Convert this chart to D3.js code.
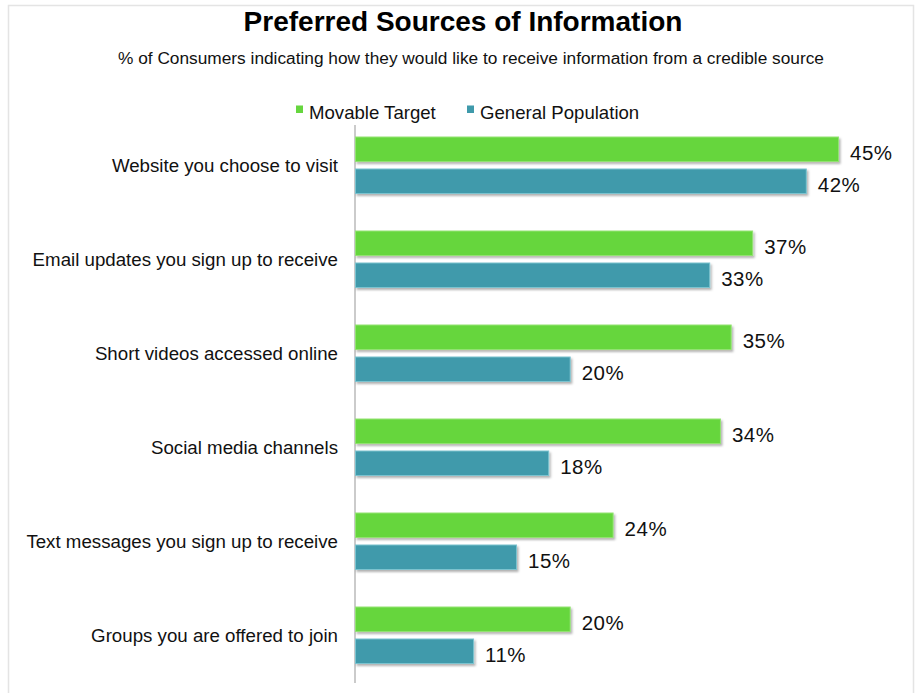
<!DOCTYPE html>
<html>
<head>
<meta charset="utf-8">
<script src="https://cdn.jsdelivr.net/npm/d3@7"></script>
<style>
  html, body { margin: 0; padding: 0; background: #fff; }
  svg { display: block; font-family: "Liberation Sans", Arial, Helvetica, sans-serif; }
</style>
</head>
<body>
<svg id="chart" width="915" height="693"></svg>
<script>
// Survey answers: share of respondents per information source
const categories = [
  "Website you choose to visit",
  "Email updates you sign up to receive",
  "Short videos accessed online",
  "Social media channels",
  "Text messages you sign up to receive",
  "Groups you are offered to join"
];
const seriesNames = ["Movable Target", "General Population"];
const movableTarget = [45, 37, 35, 34, 24, 20];
const generalPopulation = [42, 33, 20, 18, 15, 11];
const seriesColors = ["#66d63e", "#3f9aab"];
const seriesEdges = ["#93e373", "#7cc3cf"];

const titleText = "Preferred Sources of Information";
const subtitleText = "% of Consumers indicating how they would like to receive information from a credible source";

const svg = d3.select("#chart");

// light frame around the chart area
svg.append("path")
  .attr("d", "M8.5,700 V5.5 H913.5 V700")
  .attr("fill", "none")
  .attr("stroke", "#e4e4e4")
  .attr("stroke-width", 1.5);

// soft drop shadow under bars
const defs = svg.append("defs");
const f = defs.append("filter").attr("id", "shadow")
  .attr("x", "-5%").attr("y", "-20%").attr("width", "115%").attr("height", "160%");
f.append("feDropShadow")
  .attr("dx", 1.5).attr("dy", 2).attr("stdDeviation", 1.2)
  .attr("flood-color", "#000").attr("flood-opacity", 0.3);

// titles
svg.append("text")
  .attr("x", 463).attr("y", 31)
  .attr("text-anchor", "middle")
  .attr("font-size", 28).attr("font-weight", "bold").attr("fill", "#000")
  .text(titleText);
svg.append("text")
  .attr("x", 471).attr("y", 64)
  .attr("text-anchor", "middle")
  .attr("font-size", 17.3).attr("fill", "#111")
  .text(subtitleText);

// scales
const x0 = 355;
const x = d3.scaleLinear().domain([0, 45]).range([x0, x0 + 483]);
const y = d3.scaleBand().domain(categories).range([118, 682]).paddingInner(0).paddingOuter(0);
const ySeries = d3.scaleBand().domain(seriesNames).range([19, 75.5]).paddingInner(0.234).paddingOuter(0);

const rows = categories.map((c, i) => ({
  category: c,
  values: [movableTarget[i], generalPopulation[i]]
}));

// category axis (labels on the left, vertical line)
const yAxis = d3.axisLeft(y).tickSize(0).tickPadding(17);
const gAxis = svg.append("g")
  .attr("transform", `translate(${x0},0)`)
  .call(yAxis);
gAxis.select(".domain").remove();
gAxis.selectAll("text")
  .attr("font-size", 18.7)
  .attr("fill", "#111")
  .attr("font-family", "'Liberation Sans', Arial, sans-serif")
  .attr("dy", "0.32em")
  .attr("transform", "translate(0,1)");

svg.append("line")
  .attr("x1", x0).attr("x2", x0)
  .attr("y1", 125).attr("y2", 683)
  .attr("stroke", "#a8a8a8").attr("stroke-width", 1.2);

// bars
const groups = svg.append("g").selectAll("g")
  .data(rows).join("g")
  .attr("transform", d => `translate(0,${y(d.category)})`);

groups.selectAll("rect")
  .data(d => d.values.map((v, k) => ({ series: seriesNames[k], k, v })))
  .join("rect")
  .attr("x", x(0) + 0.5)
  .attr("y", d => ySeries(d.series))
  .attr("width", d => x(d.v) - x(0))
  .attr("height", ySeries.bandwidth())
  .attr("fill", d => seriesColors[d.k])
  .attr("stroke", d => seriesEdges[d.k])
  .attr("stroke-width", 1)
  .attr("filter", "url(#shadow)");

groups.selectAll("text.val")
  .data(d => d.values.map((v, k) => ({ series: seriesNames[k], k, v })))
  .join("text")
  .attr("class", "val")
  .attr("x", d => x(d.v) + 12)
  .attr("y", d => ySeries(d.series) + ySeries.bandwidth() / 2 + 3)
  .attr("dy", "0.36em")
  .attr("font-size", 20.5)
  .attr("letter-spacing", 0.5)
  .attr("fill", "#111")
  .text(d => d.v + "%");

// legend
const legendItems = [
  { name: seriesNames[0], color: seriesColors[0], x: 296 },
  { name: seriesNames[1], color: seriesColors[1], x: 467 }
];
const lg = svg.append("g").selectAll("g").data(legendItems).join("g")
  .attr("transform", d => `translate(${d.x},0)`);
lg.append("rect")
  .attr("x", 0).attr("y", 105.5)
  .attr("width", 7).attr("height", 7.5)
  .attr("fill", d => d.color);
lg.append("text")
  .attr("x", 13).attr("y", 112)
  .attr("dy", "0.36em")
  .attr("font-size", 18.6)
  .attr("fill", "#111")
  .text(d => d.name);
</script>
</body>
</html>
